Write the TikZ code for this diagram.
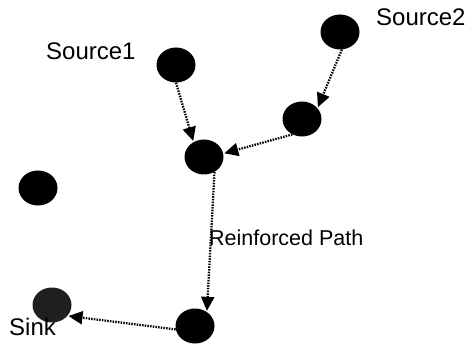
\documentclass[tikz,border=0pt]{standalone}
\usepackage{fontspec}
\setmainfont{Liberation Sans}
\usetikzlibrary{arrows.meta,shapes.geometric}
\begin{document}
\begin{tikzpicture}[x=1pt,y=-1pt,
  sensor/.style={ellipse,fill=black,minimum width=39pt,minimum height=35pt,inner sep=0pt},
  flow/.style={line width=2.3pt,dash pattern=on 1.5pt off 1.2pt,
    -{Triangle[length=14pt,width=13pt]},shorten >=1pt},
  lbl/.style={font=\fontsize{24}{28}\selectfont,anchor=base west,inner sep=0pt}]
\useasboundingbox (0,0) rectangle (472,345);
% sensor nodes
\node[sensor] (s1) at (176,65) {};
\node[sensor] (s2) at (340,32) {};
\node[sensor] (rt) at (302,119) {};
\node[sensor] (mid) at (204,157) {};
\node[sensor] (lf) at (38,188) {};
\node[sensor,fill=black!88] (sink) at (52,305) {};
\node[sensor] (bot) at (195,326) {};
% labels
\node[lbl] (t1) at (46,60) {Source1};
\node[lbl] (t2) at (376,26) {Source2};
\node[lbl,font=\fontsize{21.5}{26}\selectfont] (tp) at (209,245) {Reinforced Path};
\node[lbl] (ts) at (9,335) {Sink};
% data flow
\draw[flow] (s1.south) -- (mid.125);
\draw[flow] (s2.-84) -- (rt.35);
\draw[flow] (rt.238) -- (mid.10);
\draw[flow] (mid.-55) -- (bot.50);
\draw[flow] (bot.190) -- (sink.-35);
\end{tikzpicture}
\end{document}
